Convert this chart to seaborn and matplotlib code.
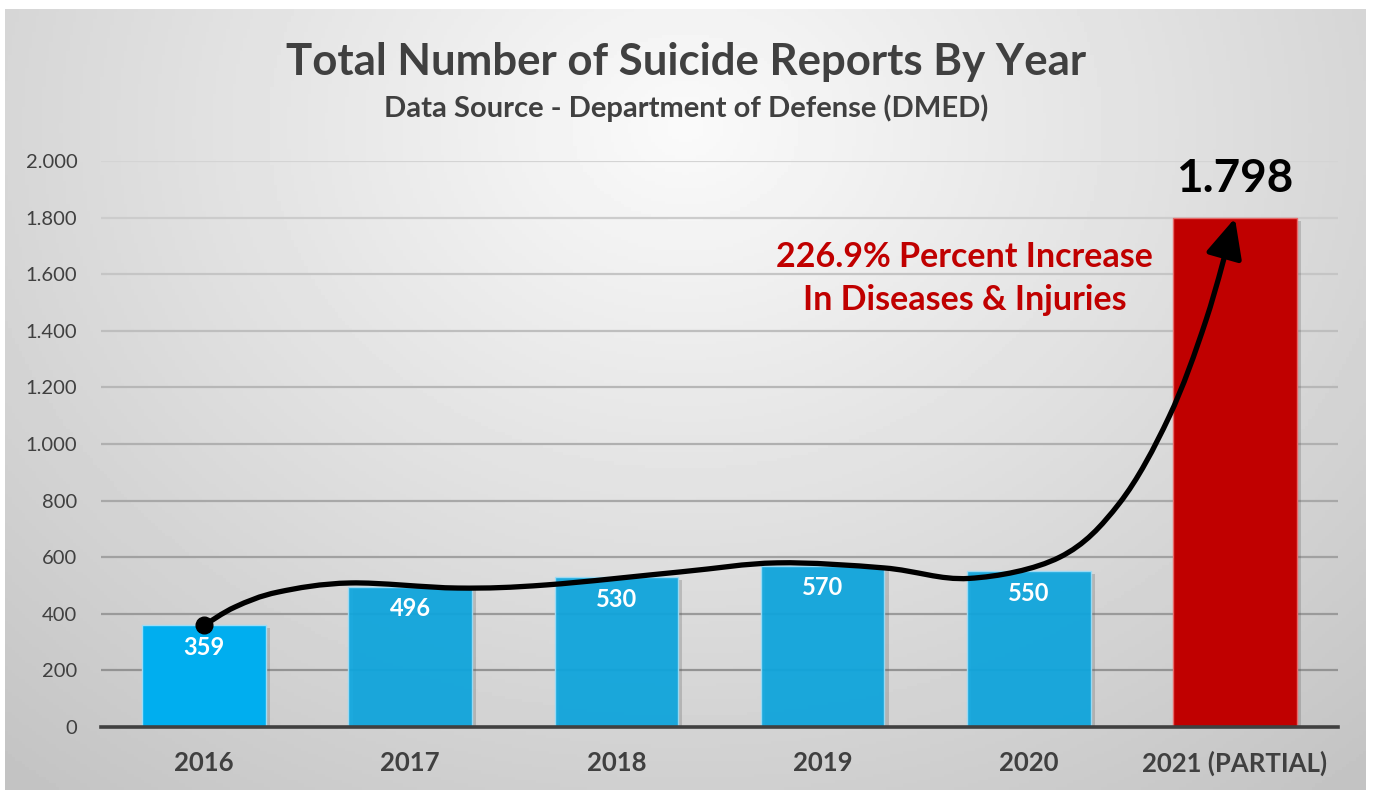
"""Total number of suicide reports by year (DMED) - bar chart with trend arrow."""

import numpy as np
import matplotlib
matplotlib.use("Agg")
import matplotlib.pyplot as plt
import matplotlib.patheffects as pe
from matplotlib.path import Path
from matplotlib.patches import FancyArrowPatch
from matplotlib.ticker import FuncFormatter
import seaborn as sns

# data
years = ["2016", "2017", "2018", "2019", "2020", "2021 (PARTIAL)"]
reports = [359, 496, 530, 570, 550, 1798]
bar_colors = ["#00aeef", "#0ea6de", "#0ea6de", "#0ea6de", "#0ea6de", "#c00000"]
y_ticks = [0, 200, 400, 600, 800, 1000, 1200, 1400, 1600, 1800, 2000]

# hand-drawn trend curve waypoints (category index, value), between first and last bar
trend_x = [0.15, 0.36, 0.71, 1.23, 1.66, 2.31, 2.78, 3.30, 3.71, 4.15, 4.44, 4.68, 4.86]
trend_y = [424, 477, 509, 491, 502, 548, 580, 562, 525, 600, 791, 1095, 1438]

TEXT = "#404040"

sns.set_theme(style="white")
plt.rcParams["font.family"] = ["Lato", "DejaVu Sans"]

fig = plt.figure(figsize=(13.74, 7.93), dpi=100)
fig.patch.set_facecolor("white")

# gradient panel behind everything
bg = fig.add_axes([5 / 1374, 3 / 793, 1361 / 1374, 781 / 793], zorder=-2)
gx, gy = np.meshgrid(np.linspace(0, 1, 400), np.linspace(0, 1, 240))
d = np.sqrt(((gx - 0.5) / 0.7) ** 2 + ((gy - 0.15) / 1.0) ** 2)
shade = np.clip(250 - 50 * d, 188, 250) / 255
bg.imshow(shade, cmap="gray", vmin=0, vmax=1, aspect="auto", extent=(0, 1, 1, 0))
bg.set_axis_off()

ax = fig.add_axes([101 / 1374, 66 / 793, 1237 / 1374, 566 / 793])
ax.set_facecolor("none")

sns.barplot(x=years, y=reports, hue=years, palette=bar_colors, legend=False,
            width=0.6, saturation=1, ax=ax, zorder=3)
for i, bar in enumerate(ax.patches):
    if 0 < i < len(years) - 1:
        bar.set_alpha(0.93)
    edge = "#e86a6a" if i == len(years) - 1 else "#9fdcf5"
    bar.set_edgecolor(edge)
    bar.set_linewidth(1.0)
    bar.set_path_effects([pe.SimplePatchShadow(offset=(3, -2), shadow_rgbFace="#555555", alpha=0.25),
                          pe.Normal()])

ax.set_ylim(0, 2000)
ax.set_xlim(-0.5, len(years) - 0.5)
ax.set_yticks(y_ticks)
ax.yaxis.set_major_formatter(FuncFormatter(lambda v, _: f"{v:,.0f}".replace(",", ".")))

# gridlines fade toward the top
for t in y_ticks[1:]:
    g = int(140 + 72 * (t / 2000))
    ax.axhline(t, color=f"#{g:02x}{g:02x}{g:02x}", lw=1.6, zorder=1)

for s in ["top", "right", "left"]:
    ax.spines[s].set_visible(False)
ax.spines["bottom"].set_color(TEXT)
ax.spines["bottom"].set_linewidth(2.6)
ax.spines["bottom"].set_zorder(5)

ax.tick_params(axis="y", length=0, pad=17, labelsize=14.5, labelcolor=TEXT)
ax.tick_params(axis="x", length=0, pad=17, labelsize=18.5, labelcolor=TEXT)
for lab in ax.get_xticklabels():
    lab.set_fontweight("bold")
ax.set_xlabel("")
ax.set_ylabel("")

# value labels
for i, v in enumerate(reports[:-1]):
    ax.annotate(str(v), (i, v), xytext=(0, -16), textcoords="offset points",
                ha="center", va="center", color="white", fontsize=17, fontweight="bold", zorder=6)
ax.annotate(f"{reports[-1]:,}".replace(",", "."), (len(years) - 1, reports[-1]), xytext=(0, 28),
            textcoords="offset points", ha="center", va="center", color="black",
            fontsize=33, fontweight="bold", zorder=6)

# trend arrow: Catmull-Rom through waypoints -> cubic bezier path
pts = np.array([[0, reports[0]]] + list(zip(trend_x, trend_y)) + [[len(years) - 1, reports[-1]]], dtype=float)
verts = [pts[0]]
codes = [Path.MOVETO]
for k in range(len(pts) - 1):
    p0 = pts[max(k - 1, 0)]
    p1, p2 = pts[k], pts[k + 1]
    p3 = pts[min(k + 2, len(pts) - 1)]
    verts += [p1 + (p2 - p0) / 6, p2 - (p3 - p1) / 6, p2]
    codes += [Path.CURVE4] * 3
arrow = FancyArrowPatch(path=Path(verts, codes), arrowstyle="-|>,head_length=0.6,head_width=0.28",
                        mutation_scale=40, lw=3.8, color="black", zorder=7)
ax.add_patch(arrow)
ax.plot(0, reports[0], "o", ms=12, color="black", zorder=8)

ax.text(3.69, 1585, "226.9% Percent Increase\nIn Diseases & Injuries", ha="center", va="center",
        color="#c00000", fontsize=24.5, fontweight="bold", linespacing=1.4, zorder=6)

fig.text(686 / 1374, 1 - 62 / 793, "Total Number of Suicide Reports By Year", ha="center", va="center",
         color=TEXT, fontsize=31.5, fontweight="bold")
fig.text(686 / 1374, 1 - 108 / 793, "Data Source - Department of Defense (DMED)", ha="center",
         va="center", color=TEXT, fontsize=21, fontweight="bold")

fig.savefig("out.png", dpi=100)
plt.close()
